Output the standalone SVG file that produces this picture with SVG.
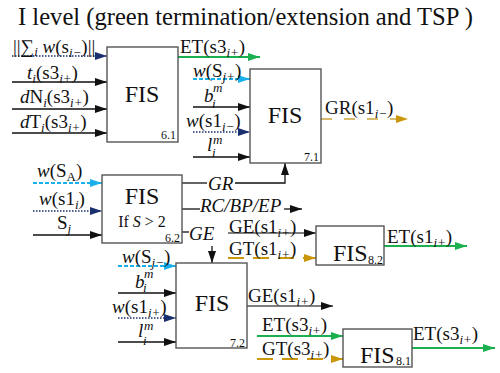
<svg xmlns="http://www.w3.org/2000/svg" width="500" height="373" viewBox="0 0 500 373">
<style>
text{font-family:"Liberation Serif","Times New Roman",serif;fill:#111}
.t{font-size:24.6px}
.l{font-size:19px}
.s{font-size:13px}
.it{font-style:italic}
.fis{font-size:24px}
.num{font-size:12px}
.box{fill:#fff;stroke:#555;stroke-width:1.4}
.k{stroke:#111;stroke-width:1.3;fill:none}
.g{stroke:#555;stroke-width:1.3;fill:none}
.gr{stroke:#1aaf4f;stroke-width:2;fill:none}
.cy{stroke:#1ab0ec;stroke-width:2;stroke-dasharray:4 2;fill:none}
.nv{stroke:#1a2f6e;stroke-width:1.3;stroke-dasharray:1.5 1.5;fill:none}
.gd{stroke:#c9960c;stroke-width:1.8;stroke-dasharray:16 9;fill:none}
.gl{stroke:#d8bb6a;stroke-width:1.8;stroke-dasharray:11 12;fill:none}
</style>
<defs>
<marker id="ak" markerUnits="userSpaceOnUse" markerWidth="12" markerHeight="8" refX="12" refY="4" orient="auto"><path d="M0,0L12,4L0,8z" fill="#111"/></marker>
<marker id="agr" markerUnits="userSpaceOnUse" markerWidth="12" markerHeight="8" refX="12" refY="4" orient="auto"><path d="M0,0L12,4L0,8z" fill="#1aaf4f"/></marker>
<marker id="acy" markerUnits="userSpaceOnUse" markerWidth="12" markerHeight="8" refX="12" refY="4" orient="auto"><path d="M0,0L12,4L0,8z" fill="#1ab0ec"/></marker>
<marker id="anv" markerUnits="userSpaceOnUse" markerWidth="12" markerHeight="8" refX="12" refY="4" orient="auto"><path d="M0,0L12,4L0,8z" fill="#1a2f6e"/></marker>
<marker id="agd" markerUnits="userSpaceOnUse" markerWidth="12" markerHeight="8" refX="12" refY="4" orient="auto"><path d="M0,0L12,4L0,8z" fill="#c9960c"/></marker>
</defs>

<text class="t" x="18" y="25">I level (green termination/extension and TSP )</text>

<g id="connectors">
<line class="nv" x1="12" y1="56" x2="107" y2="56" marker-end="url(#anv)"/>
<line class="k" x1="12" y1="82" x2="107" y2="82" marker-end="url(#ak)"/>
<line class="k" x1="12" y1="109" x2="107" y2="109" marker-end="url(#ak)"/>
<line class="k" x1="12" y1="133" x2="107" y2="133" marker-end="url(#ak)"/>
<line class="gr" x1="178" y1="57" x2="260" y2="57" marker-end="url(#agr)"/>
<line class="cy" x1="193" y1="79" x2="250" y2="79" marker-end="url(#acy)"/>
<line class="k" x1="193" y1="107" x2="250" y2="107" marker-end="url(#ak)"/>
<line class="nv" x1="193" y1="132" x2="250" y2="132" marker-end="url(#anv)"/>
<line class="k" x1="193" y1="157" x2="250" y2="157" marker-end="url(#ak)"/>
<line class="gl" x1="321" y1="119" x2="408" y2="119" marker-end="url(#agd)"/>
<line class="cy" x1="33" y1="183" x2="102" y2="183" marker-end="url(#acy)"/>
<line class="nv" x1="33" y1="211" x2="102" y2="211" marker-end="url(#anv)"/>
<line class="k" x1="33" y1="235" x2="102" y2="235" marker-end="url(#ak)"/>
<line class="k" x1="182" y1="183" x2="207" y2="183"/>
<polyline class="k" points="235,183 285,183 285,163" marker-end="url(#ak)"/>
<line class="k" x1="182" y1="209" x2="200" y2="209"/>
<line class="k" x1="284" y1="209" x2="302" y2="209" marker-end="url(#ak)"/>
<line class="k" x1="182" y1="232" x2="189" y2="232"/>
<line class="k" x1="212" y1="246" x2="212" y2="263" marker-end="url(#ak)"/>
<line class="g" x1="228" y1="233" x2="316" y2="233" marker-end="url(#ak)"/>
<line class="gd" x1="228" y1="258" x2="316" y2="258" marker-end="url(#agd)"/>
<line class="gr" x1="384" y1="246" x2="467" y2="246" marker-end="url(#agr)"/>
<line class="cy" x1="118" y1="266" x2="176" y2="266" marker-end="url(#acy)"/>
<line class="k" x1="118" y1="293" x2="176" y2="293" marker-end="url(#ak)"/>
<line class="nv" x1="118" y1="318" x2="176" y2="318" marker-end="url(#anv)"/>
<line class="k" x1="118" y1="342" x2="176" y2="342" marker-end="url(#ak)"/>
<line class="g" x1="247" y1="306" x2="333" y2="306" marker-end="url(#ak)"/>
<line class="gr" x1="257" y1="336" x2="343" y2="336" marker-end="url(#agr)"/>
<line class="gd" x1="257" y1="359" x2="343" y2="359" marker-end="url(#agd)"/>
<line class="gr" x1="412" y1="348" x2="495" y2="348" marker-end="url(#agr)"/>
</g>

<g id="labels">
<text class="l" x="13" y="53">||∑<tspan class="s it" dy="3">i</tspan><tspan class="it" dy="-3"> w</tspan>(s<tspan class="s it" dy="4">i−</tspan><tspan dy="-4">)||</tspan></text>
<text class="l" x="27" y="79"><tspan class="it">t</tspan><tspan class="s it" dy="4">i</tspan><tspan dy="-4">(s3</tspan><tspan class="s it" dy="4">i+</tspan><tspan dy="-4">)</tspan></text>
<text class="l" x="20" y="103"><tspan class="it">d</tspan>N<tspan class="s it" dy="4">i</tspan><tspan dy="-4">(s3</tspan><tspan class="s it" dy="4">i+</tspan><tspan dy="-4">)</tspan></text>
<text class="l" x="20" y="128"><tspan class="it">d</tspan>T<tspan class="s it" dy="4">i</tspan><tspan dy="-4">(s3</tspan><tspan class="s it" dy="4">i+</tspan><tspan dy="-4">)</tspan></text>
<text class="l" x="180" y="53">ET(s3<tspan class="s it" dy="4">i+</tspan><tspan dy="-4">)</tspan></text>

<text class="l" x="193" y="77"><tspan class="it">w</tspan>(S<tspan class="s it" dy="4">j+</tspan><tspan dy="-4">)</tspan></text>
<text class="l it" x="204" y="102">b</text><text class="s it" x="213" y="92">m</text><text class="s it" x="212" y="108">i</text>
<text class="l" x="186" y="127"><tspan class="it">w</tspan>(s1<tspan class="s it" dy="4">i−</tspan><tspan dy="-4">)</tspan></text>
<text class="l it" x="207" y="151">l</text><text class="s it" x="213" y="144">m</text><text class="s it" x="212" y="157">i</text>
<text class="l" x="325" y="114">GR(s1<tspan class="s it" dy="4">i−</tspan><tspan dy="-4">)</tspan></text>

<text class="l" x="37" y="177"><tspan class="it">w</tspan>(S<tspan class="s" dy="4">A</tspan><tspan dy="-4">)</tspan></text>
<text class="l" x="39" y="205"><tspan class="it">w</tspan>(s1<tspan class="s it" dy="4">i</tspan><tspan dy="-4">)</tspan></text>
<text class="l" x="57" y="229">S<tspan class="s it" dy="4">j</tspan></text>

<text class="l it" x="208" y="190">GR</text>
<text class="l it" x="200" y="212">RC/BP/EP</text>
<text class="l it" x="189" y="240">GE</text>

<text class="l" x="229" y="233">GE(s1<tspan class="s it" dy="4">i+</tspan><tspan dy="-4">)</tspan></text>
<text class="l" x="229" y="255">GT(s1<tspan class="s it" dy="4">i+</tspan><tspan dy="-4">)</tspan></text>
<text class="l" x="387" y="243">ET(s1<tspan class="s it" dy="4">i+</tspan><tspan dy="-4">)</tspan></text>

<text class="l" x="122" y="263"><tspan class="it">w</tspan>(S<tspan class="s it" dy="4">j−</tspan><tspan dy="-4">)</tspan></text>
<text class="l it" x="135" y="288">b</text><text class="s it" x="144" y="278">m</text><text class="s it" x="143" y="292">i</text>
<text class="l" x="112" y="313"><tspan class="it">w</tspan>(s1<tspan class="s it" dy="4">i+</tspan><tspan dy="-4">)</tspan></text>
<text class="l it" x="138" y="337">l</text><text class="s it" x="144" y="330">m</text><text class="s it" x="143" y="345">i</text>

<text class="l" x="248" y="302">GE(s1<tspan class="s it" dy="4">i+</tspan><tspan dy="-4">)</tspan></text>
<text class="l" x="262" y="331">ET(s3<tspan class="s it" dy="4">i+</tspan><tspan dy="-4">)</tspan></text>
<text class="l" x="262" y="355">GT(s3<tspan class="s it" dy="4">i+</tspan><tspan dy="-4">)</tspan></text>
<text class="l" x="413" y="340">ET(s3<tspan class="s it" dy="4">i+</tspan><tspan dy="-4">)</tspan></text>
</g>

<g id="fis61">
<rect class="box" x="107" y="47" width="71" height="95"/>
<text class="fis" x="142" y="102" text-anchor="middle">FIS</text>
<text class="num" x="176" y="139" text-anchor="end">6.1</text>
</g>
<g id="fis71">
<rect class="box" x="250" y="69" width="71" height="94"/>
<text class="fis" x="285" y="123" text-anchor="middle">FIS</text>
<text class="num" x="319" y="161" text-anchor="end">7.1</text>
</g>
<g id="fis62">
<rect class="box" x="102" y="175" width="80" height="68"/>
<text class="fis" x="142" y="204" text-anchor="middle">FIS</text>
<text x="142" y="227" text-anchor="middle" style="font-size:16px">If <tspan class="it">S</tspan> &gt; 2</text>
<text class="num" x="180" y="242" text-anchor="end">6.2</text>
</g>
<g id="fis82">
<rect class="box" x="316" y="226" width="68" height="39"/>
<text class="fis" x="333" y="261">FIS</text>
<text class="num" x="383" y="264" text-anchor="end">8.2</text>
</g>
<g id="fis72">
<rect class="box" x="176" y="263" width="71" height="85"/>
<text class="fis" x="212" y="311" text-anchor="middle">FIS</text>
<text class="num" x="245" y="347" text-anchor="end">7.2</text>
</g>
<g id="fis81">
<rect class="box" x="343" y="329" width="69" height="38"/>
<text class="fis" x="360" y="363">FIS</text>
<text class="num" x="411" y="365" text-anchor="end">8.1</text>
</g>
</svg>
